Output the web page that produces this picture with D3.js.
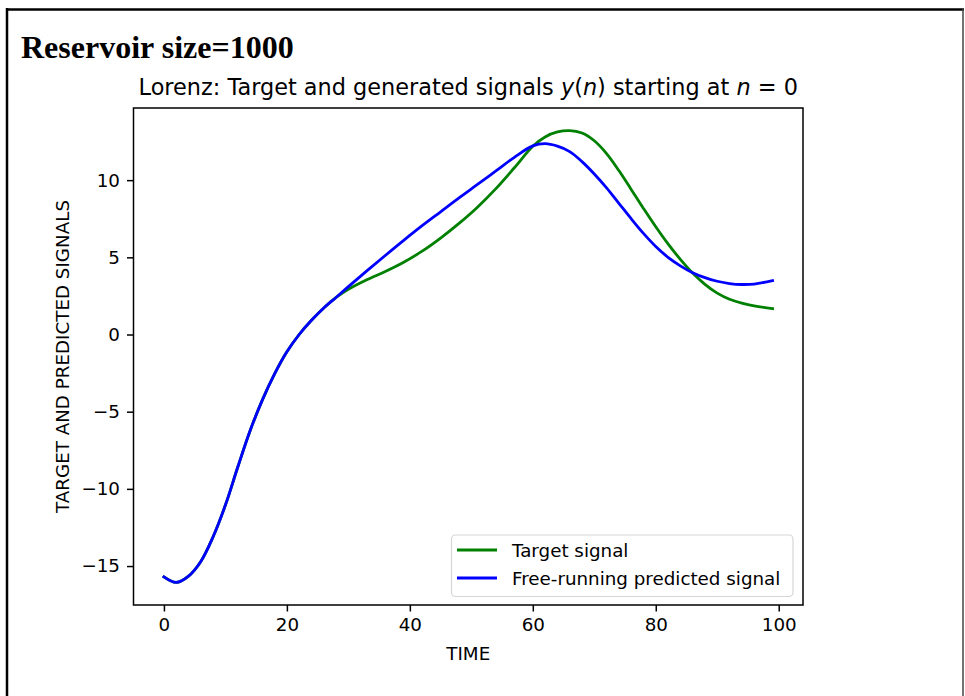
<!DOCTYPE html>
<html>
<head>
<meta charset="utf-8">
<script src="https://cdn.jsdelivr.net/npm/d3@7"></script>
<style>
  html, body { margin: 0; padding: 0; background: #fff; }
  svg { display: block; }
  text { font-family: "DejaVu Sans", sans-serif; fill: #000; }
</style>
</head>
<body>
<script>
// ---------------- data ----------------
const time = [0, 2, 4, 6, 8, 10, 12, 14, 16, 18, 20, 22, 24, 26, 28, 30, 33, 36, 39, 42, 45, 48, 51, 54, 57, 60, 62, 64, 66, 68, 70, 72, 74, 76, 78, 80, 82, 84, 86, 88, 90, 92, 94, 96, 99];
const targetSignal = [-15.7, -16.06, -15.65, -14.7, -13.1, -11.05, -8.6, -6.25, -4.25, -2.55, -1.12, 0.0, 0.92, 1.72, 2.4,
  2.93, 3.55, 4.08, 4.68, 5.4, 6.25, 7.2, 8.25, 9.45, 10.8, 12.2, 12.8, 13.12, 13.21, 13.05, 12.55, 11.72, 10.62, 9.4, 8.17, 6.98, 5.87, 4.87, 3.98, 3.25, 2.68, 2.28, 2.03, 1.85, 1.68];
const predictedSignal = [-15.7, -16.06, -15.65, -14.7, -13.1, -11.05, -8.6, -6.25, -4.25, -2.55, -1.12, 0.0, 0.92, 1.72, 2.4,
  3.1, 4.12, 5.12, 6.1, 7.05, 7.95, 8.85, 9.72, 10.6, 11.48, 12.22, 12.36, 12.2, 11.85, 11.2, 10.4, 9.5, 8.5, 7.5, 6.55, 5.7, 5.0, 4.45, 4.0, 3.68, 3.45, 3.3, 3.24, 3.27, 3.49];
const xTicks = [0, 20, 40, 60, 80, 100];
const yTicks = [-15, -10, -5, 0, 5, 10];
const seriesNames = ["Target signal", "Free-running predicted signal"];
const seriesColors = ["#008000", "#0000ff"];
const headerText = "Reservoir size=1000";
const xLabel = "TIME";
const yLabel = "TARGET AND PREDICTED SIGNALS";

// ---------------- layout ----------------
const W = 965, H = 696;
const plot = { left: 133.5, right: 803, top: 108, bottom: 605 };

const svg = d3.select("body").append("svg").attr("width", W).attr("height", H);

// outer frame (document cell border)
svg.append("line").attr("x1", 6).attr("x2", 964).attr("y1", 9.5).attr("y2", 9.5)
  .attr("stroke", "#000").attr("stroke-width", 2.5);
svg.append("line").attr("x1", 7).attr("x2", 7).attr("y1", 8).attr("y2", H)
  .attr("stroke", "#000").attr("stroke-width", 2.5);
svg.append("line").attr("x1", 963).attr("x2", 963).attr("y1", 8).attr("y2", H)
  .attr("stroke", "#444").attr("stroke-width", 1.5);

// header
svg.append("text").attr("x", 21).attr("y", 58)
  .style("font-family", "'Liberation Serif', 'Times New Roman', serif")
  .style("font-weight", "bold").style("font-size", "32px")
  .text(headerText);

// scales (matplotlib-style 5% margins)
const xExt = d3.extent(time);
const xPad = (xExt[1] - xExt[0]) * 0.05;
const x = d3.scaleLinear().domain([xExt[0] - xPad, xExt[1] + xPad]).range([plot.left, plot.right]);
const allY = targetSignal.concat(predictedSignal);
const yExt = d3.extent(allY);
const yPad = (yExt[1] - yExt[0]) * 0.05;
const y = d3.scaleLinear().domain([yExt[0] - yPad, yExt[1] + yPad]).range([plot.bottom, plot.top]);

// clip
svg.append("clipPath").attr("id", "clip").append("rect")
  .attr("x", plot.left).attr("y", plot.top)
  .attr("width", plot.right - plot.left).attr("height", plot.bottom - plot.top);

// lines
const line = d3.line().x(d => x(d[0])).y(d => y(d[1])).curve(d3.curveCatmullRom.alpha(0.5));
const series = [targetSignal, predictedSignal];
series.forEach((vals, i) => {
  svg.append("path")
    .datum(time.map((t, k) => [t, vals[k]]))
    .attr("clip-path", "url(#clip)")
    .attr("fill", "none")
    .attr("stroke", seriesColors[i])
    .attr("stroke-width", 2.8)
    .attr("stroke-linejoin", "round")
    .attr("stroke-linecap", "square")
    .attr("d", line);
});

// axes
const fontTick = "18.3px";
const xAxis = svg.append("g").attr("transform", `translate(0,${plot.bottom})`)
  .call(d3.axisBottom(x).tickValues(xTicks).tickSize(6.5).tickPadding(7).tickFormat(d3.format("d")));
const yAxis = svg.append("g").attr("transform", `translate(${plot.left},0)`)
  .call(d3.axisLeft(y).tickValues(yTicks).tickSize(6.5).tickPadding(7)
    .tickFormat(d => d < 0 ? "\u2212" + Math.abs(d) : String(d)));
[xAxis, yAxis].forEach(g => {
  g.select(".domain").remove();
  g.selectAll(".tick line").attr("stroke", "#000").attr("stroke-width", 1.5);
  g.selectAll(".tick text").style("font-family", "'DejaVu Sans', sans-serif")
    .style("font-size", fontTick).attr("fill", "#000");
});

// spines
svg.append("rect").attr("x", plot.left).attr("y", plot.top)
  .attr("width", plot.right - plot.left).attr("height", plot.bottom - plot.top)
  .attr("fill", "none").attr("stroke", "#000").attr("stroke-width", 1.5);

// title with italic math
const cx = (plot.left + plot.right) / 2;
const title = svg.append("text").attr("x", cx).attr("y", 95).attr("text-anchor", "middle")
  .style("font-size", "22.4px");
title.append("tspan").text("Lorenz: Target and generated signals ");
title.append("tspan").style("font-style", "italic").text("y");
title.append("tspan").text("(");
title.append("tspan").style("font-style", "italic").text("n");
title.append("tspan").text(") starting at ");
title.append("tspan").style("font-style", "italic").text("n");
title.append("tspan").text(" = 0");

// axis labels
svg.append("text").attr("x", cx).attr("y", 660).attr("text-anchor", "middle")
  .style("font-size", fontTick).text(xLabel);
svg.append("text").attr("transform", `translate(69,${(plot.top + plot.bottom) / 2}) rotate(-90)`)
  .attr("text-anchor", "middle").style("font-size", fontTick).text(yLabel);

// legend
const lg = { x: 451.5, y: 535, w: 341.5, h: 61.5 };
svg.append("rect").attr("x", lg.x).attr("y", lg.y).attr("width", lg.w).attr("height", lg.h)
  .attr("rx", 4).attr("ry", 4)
  .attr("fill", "#fff").attr("fill-opacity", 0.8)
  .attr("stroke", "#d6d6d6").attr("stroke-width", 1.2);
const rowY = [550, 578];
seriesNames.forEach((name, i) => {
  svg.append("line").attr("x1", 457).attr("x2", 497).attr("y1", rowY[i]).attr("y2", rowY[i])
    .attr("stroke", seriesColors[i]).attr("stroke-width", 2.8);
  svg.append("text").attr("x", 512).attr("y", rowY[i] + 6.5)
    .style("font-size", fontTick).text(name);
});
</script>
</body>
</html>
